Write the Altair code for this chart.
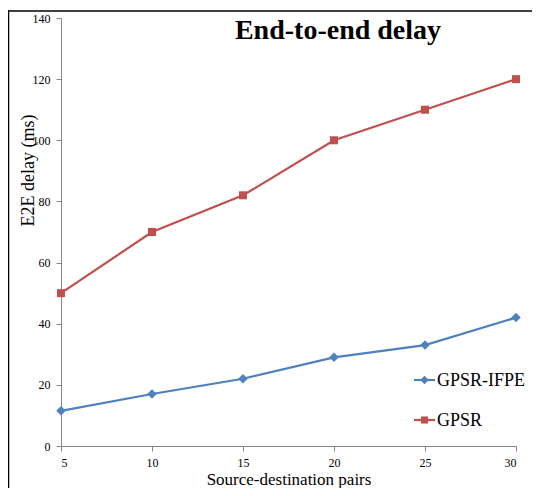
import altair as alt
import pandas as pd

# ---- data ----
pairs = [5, 10, 15, 20, 25, 30]
gpsr_ifpe = [11.5, 17, 22, 29, 33, 42]
gpsr = [50, 70, 82, 100, 110, 120]
series_names = ["GPSR-IFPE", "GPSR"]
series_colors = ["#4F81BD", "#C0504D"]
series_shapes = ["diamond", "square"]
x_ticks = [5, 10, 15, 20, 25, 30]
y_ticks = [0, 20, 40, 60, 80, 100, 120, 140]
chart_title = "End-to-end delay"

df = pd.DataFrame({
    "pairs": pairs + pairs,
    "delay": gpsr_ifpe + gpsr,
    "series": [series_names[0]] * len(pairs) + [series_names[1]] * len(pairs),
})

FONT = "Liberation Serif"
AXIS_GRAY = "#868686"
W, H = 455, 428
PAD = {"left": 53, "top": 10, "right": 16, "bottom": 42}

x_enc = alt.X(
    "pairs:Q",
    scale=alt.Scale(domain=[5, 30], nice=False, zero=False),
    axis=alt.Axis(
        values=x_ticks, grid=False, domainColor=AXIS_GRAY, tickColor=AXIS_GRAY,
        tickSize=5, labelFont=FONT, labelFontSize=12, labelColor="black",
        labelPadding=6, title="Source-destination pairs", titleFont=FONT,
        titleFontSize=17, titleFontWeight="normal", titleColor="black",
        titleBaseline="alphabetic", titleY=38,
    ),
)
y_enc = alt.Y(
    "delay:Q",
    scale=alt.Scale(domain=[0, 140], nice=False),
    axis=alt.Axis(
        values=y_ticks, grid=False, domainColor=AXIS_GRAY, tickColor=AXIS_GRAY,
        tickSize=5, labelFont=FONT, labelFontSize=12, labelColor="black",
        labelPadding=6, title="E2E delay (ms)", titleFont=FONT,
        titleFontSize=18, titleFontWeight="normal", titleColor="black",
        titleAngle=270, titleAlign="center", titleBaseline="middle",
        titleX=-33, titleY=152,
    ),
)

color_scale = alt.Scale(domain=series_names, range=series_colors)
base = alt.Chart(df)

lines = base.mark_line(strokeWidth=2.2).encode(
    x=x_enc, y=y_enc,
    color=alt.Color("series:N", scale=color_scale, legend=None),
)

point_layers = []
for name, col, shp, sz in zip(series_names, series_colors, series_shapes, [90, 64]):
    point_layers.append(
        base.transform_filter(alt.datum.series == name)
        .mark_point(shape=shp, filled=True, size=sz, opacity=1, color=col)
        .encode(x=x_enc, y=y_enc)
    )

# ---- legend drawn inside the plot, lower right ----
one = pd.DataFrame({"k": [0]})
legend_layers = []
LEG_X0, LEG_X1, LEG_ROW0, LEG_STEP = 353, 374, 362, 40
for i, (name, col, shp, sz) in enumerate(zip(series_names, series_colors, series_shapes, [70, 50])):
    yy = LEG_ROW0 + i * LEG_STEP
    legend_layers.append(
        alt.Chart(one).mark_rule(color=col, strokeWidth=2.2)
        .encode(x=alt.value(LEG_X0), x2=alt.value(LEG_X1), y=alt.value(yy))
    )
    legend_layers.append(
        alt.Chart(one).mark_point(shape=shp, filled=True, size=sz, opacity=1, color=col)
        .encode(x=alt.value((LEG_X0 + LEG_X1) / 2), y=alt.value(yy))
    )
    legend_layers.append(
        alt.Chart(pd.DataFrame({"t": [name]})).mark_text(
            font=FONT, fontSize=18, color="black", align="left", baseline="middle"
        ).encode(text="t:N", x=alt.value(LEG_X1 + 2), y=alt.value(yy + 1))
    )

title_layer = alt.Chart(pd.DataFrame({"t": [chart_title]})).mark_text(
    font=FONT, fontSize=28, fontWeight="bold", color="black",
    align="center", baseline="alphabetic",
).encode(text="t:N", x=alt.value(277), y=alt.value(21))

# outer frame (only its left and top edges fall inside the picture)
frame_left = alt.Chart(one).mark_rect(color="black", opacity=1).encode(
    x=alt.value(-53.25), x2=alt.value(-51.75),
    y=alt.value(-7.75), y2=alt.value(H + PAD["bottom"]),
)
frame_top = alt.Chart(one).mark_rect(color="black", opacity=1).encode(
    x=alt.value(-53.25), x2=alt.value(W + PAD["right"]),
    y=alt.value(-7.75), y2=alt.value(-6.25),
)

chart = alt.layer(
    frame_left, frame_top, lines, *point_layers, *legend_layers, title_layer
).properties(
    width=W, height=H,
    background="white",
    autosize=alt.AutoSizeParams(type="none"),
    padding=PAD,
).configure_view(strokeWidth=0)

chart.save("out.html", embed_options={"renderer": "svg", "actions": False})
